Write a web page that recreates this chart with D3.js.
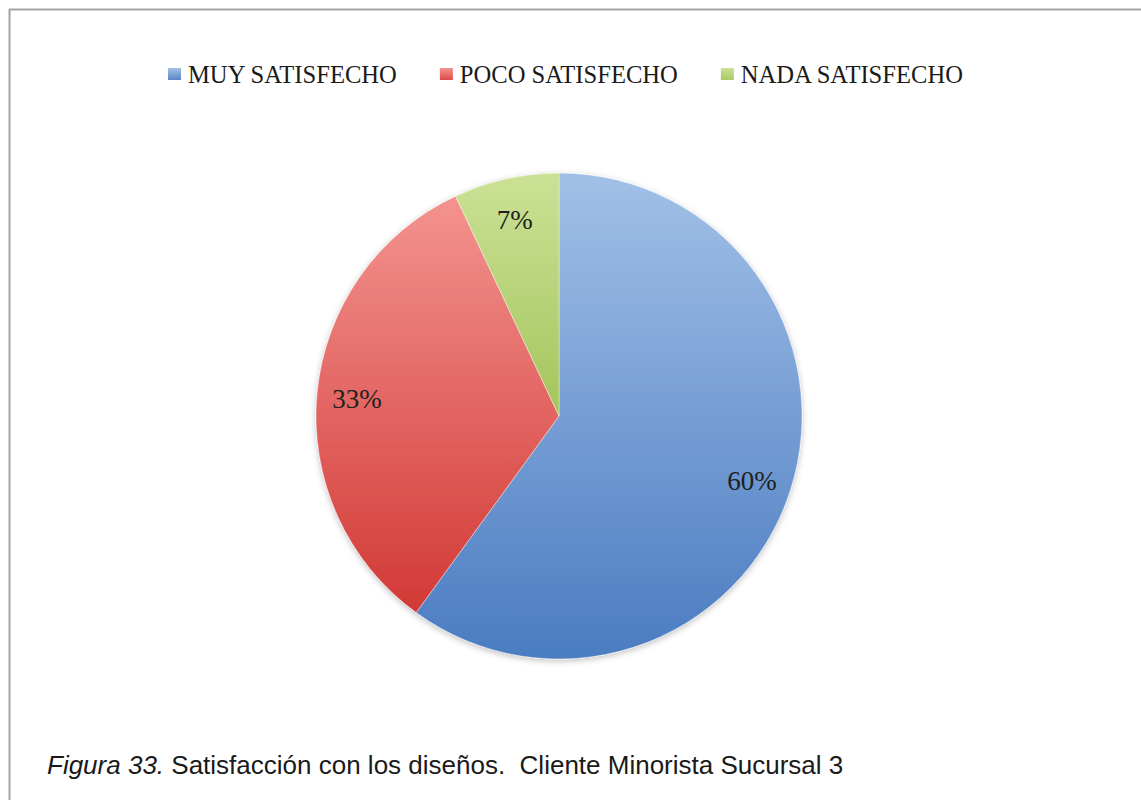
<!DOCTYPE html>
<html>
<head>
<meta charset="utf-8">
<script src="https://cdn.jsdelivr.net/npm/d3@7"></script>
<style>
  html, body { margin: 0; padding: 0; background: #ffffff; }
  svg { display: block; }
</style>
</head>
<body>
<svg id="chart" width="1141" height="800"></svg>
<script>
// Satisfaction shares (percent)
const categories = ["MUY SATISFECHO", "POCO SATISFECHO", "NADA SATISFECHO"];
const values = [60, 33, 7];
const valueLabels = ["60%", "33%", "7%"];
// gradient stops per slice: light (top) -> dark (bottom)
const colorsLight = ["#a2c0e7", "#f39390", "#cbe196"];
const colorsDark = ["#4a7cc1", "#d23935", "#a4c55c"];
const legendColors = ["#5b86c6", "#de4a47", "#a9ca62"];
const captionItalic = "Figura 33.";
const captionText = " Satisfacción con los diseños.  Cliente Minorista Sucursal 3";

const svg = d3.select("#chart");
const W = 1141, H = 800;

// frame (top and left edges)
svg.append("line").attr("x1", 9).attr("y1", 9.5).attr("x2", W).attr("y2", 9.5)
  .attr("stroke", "#a3a3a3").attr("stroke-width", 2);
svg.append("line").attr("x1", 9.5).attr("y1", 9).attr("x2", 9.5).attr("y2", H)
  .attr("stroke", "#a3a3a3").attr("stroke-width", 2);

const defs = svg.append("defs");
categories.forEach((c, i) => {
  const g = defs.append("linearGradient").attr("id", "grad" + i)
    .attr("x1", 0).attr("y1", 0).attr("x2", 0).attr("y2", 1);
  g.append("stop").attr("offset", "0%").attr("stop-color", colorsLight[i]);
  g.append("stop").attr("offset", "100%").attr("stop-color", colorsDark[i]);
  const lg = defs.append("linearGradient").attr("id", "lgrad" + i)
    .attr("x1", 0).attr("y1", 0).attr("x2", 0).attr("y2", 1);
  lg.append("stop").attr("offset", "0%").attr("stop-color", colorsLight[i]);
  lg.append("stop").attr("offset", "100%").attr("stop-color", legendColors[i]);
});
const shadow = defs.append("filter").attr("id", "shadow")
  .attr("x", "-10%").attr("y", "-10%").attr("width", "120%").attr("height", "120%");
shadow.append("feDropShadow").attr("dx", 0).attr("dy", 2).attr("stdDeviation", 3)
  .attr("flood-color", "#000").attr("flood-opacity", 0.25);

// pie
const cx = 559, cy = 416, R = 243;
const pie = d3.pie().sort(null).value(d => d.value);
const arcs = pie(categories.map((c, i) => ({ cat: c, value: values[i], label: valueLabels[i], i })));
const arc = d3.arc().innerRadius(0).outerRadius(R);
const labelArc = d3.arc().innerRadius(203).outerRadius(203);

const pg = svg.append("g").attr("transform", `translate(${cx},${cy})`);
pg.append("g").attr("filter", "url(#shadow)")
  .selectAll("path").data(arcs).join("path")
  .attr("d", arc)
  .attr("fill", d => `url(#grad${d.data.i})`)
  .attr("stroke", "rgba(255,255,255,0.4)")
  .attr("stroke-width", 1);

pg.selectAll("text.val").data(arcs).join("text")
  .attr("class", "val")
  .attr("transform", d => `translate(${labelArc.centroid(d)})`)
  .attr("text-anchor", "middle")
  .attr("dy", "0.4em")
  .attr("font-family", "'Liberation Serif', 'DejaVu Serif', serif")
  .attr("font-size", 27)
  .attr("fill", "#1f1f1f")
  .text(d => d.data.label);

// legend
const legendG = svg.append("g");
const legFont = "'Liberation Serif', 'DejaVu Serif', serif";
let lx = 168;
const ly = 83;
categories.forEach((c, i) => {
  legendG.append("rect")
    .attr("x", lx).attr("y", ly - 15).attr("width", 13).attr("height", 12)
    .attr("fill", `url(#lgrad${i})`);
  const t = legendG.append("text")
    .attr("x", lx + 20).attr("y", ly)
    .attr("font-family", legFont)
    .attr("font-size", 24.6)
    .attr("fill", "#1a1a1a")
    .text(c);
  const w = t.node().getComputedTextLength();
  lx += 20 + w + 43;
});

// caption
const cap = svg.append("text")
  .attr("x", 47).attr("y", 774)
  .attr("font-family", "'Liberation Sans', Arial, sans-serif")
  .attr("font-size", 26)
  .attr("fill", "#1a1a1a")
  .style("white-space", "pre");
cap.append("tspan").attr("font-style", "italic").text(captionItalic);
cap.append("tspan").text(captionText);
</script>
</body>
</html>
